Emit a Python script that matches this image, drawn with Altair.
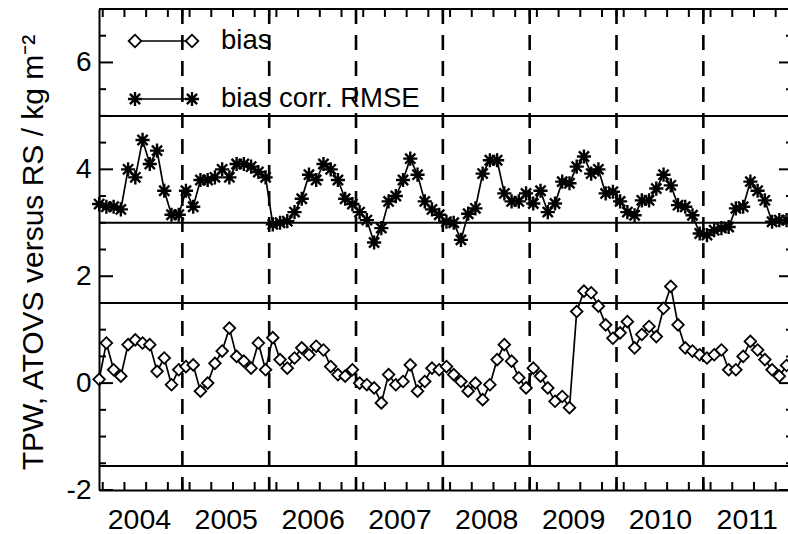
import altair as alt
import pandas as pd

# Monthly TPW statistics, ATOVS versus radiosondes, Jan 2004 - Dec 2011
bias = [
    0.07, 0.75, 0.25, 0.13, 0.72, 0.81, 0.75, 0.72, 0.22, 0.47, -0.03, 0.25,   # 2004
    0.31, 0.34, -0.15, 0.00, 0.37, 0.60, 1.03, 0.50, 0.41, 0.28, 0.75, 0.25,   # 2005
    0.85, 0.44, 0.28, 0.47, 0.66, 0.53, 0.69, 0.62, 0.31, 0.16, 0.13, 0.25,    # 2006
    0.00, -0.03, -0.09, -0.37, 0.16, -0.03, 0.03, 0.34, -0.15, 0.03, 0.28, 0.25,  # 2007
    0.31, 0.16, 0.03, -0.15, 0.00, -0.31, -0.03, 0.44, 0.72, 0.41, 0.10, -0.09,  # 2008
    0.28, 0.13, -0.09, -0.34, -0.25, -0.46, 1.34, 1.72, 1.69, 1.44, 1.09, 0.84,  # 2009
    0.94, 1.15, 0.66, 0.91, 1.06, 0.87, 1.40, 1.81, 1.09, 0.66, 0.60, 0.53,    # 2010
    0.47, 0.53, 0.62, 0.25, 0.25, 0.50, 0.78, 0.62, 0.44, 0.25, 0.13, 0.33,    # 2011
]
rmse = [
    3.35, 3.30, 3.30, 3.25, 4.00, 3.85, 4.55, 4.10, 4.35, 3.60, 3.15, 3.15,    # 2004
    3.60, 3.30, 3.80, 3.80, 3.85, 4.00, 3.85, 4.10, 4.10, 4.05, 3.95, 3.85,    # 2005
    2.97, 3.00, 3.03, 3.20, 3.45, 3.90, 3.80, 4.10, 4.00, 3.80, 3.45, 3.35,    # 2006
    3.20, 3.05, 2.63, 2.90, 3.40, 3.50, 3.80, 4.20, 3.90, 3.40, 3.25, 3.15,    # 2007
    3.02, 3.00, 2.68, 3.17, 3.27, 3.92, 4.17, 4.17, 3.55, 3.40, 3.40, 3.55,    # 2008
    3.36, 3.60, 3.20, 3.36, 3.77, 3.74, 4.05, 4.24, 3.92, 4.00, 3.55, 3.58,    # 2009
    3.40, 3.20, 3.14, 3.42, 3.42, 3.64, 3.90, 3.70, 3.33, 3.30, 3.14, 2.80,    # 2010
    2.77, 2.86, 2.90, 2.92, 3.27, 3.30, 3.77, 3.60, 3.42, 3.02, 3.05, 3.05,    # 2011
]
first_year = 2004
year_labels = ["2004", "2005", "2006", "2007", "2008", "2009", "2010", "2011"]
year_breaks = [2005, 2006, 2007, 2008, 2009, 2010, 2011]
ref_levels = [5.0, 3.0, 1.5, -1.55]
legend_labels = ["bias", "bias corr. RMSE"]
y_labels = [-2, 0, 2, 4, 6]

FONT = "Liberation Sans"
W, H = 689, 481
X_DOMAIN = [2004.04, 2011.975]
Y_DOMAIN = [-2, 7]

t = [first_year + (i + 0.5) / 12 for i in range(len(bias))]
df = pd.DataFrame({"t": t, "bias": bias, "rmse": rmse})

xs = alt.Scale(domain=X_DOMAIN, nice=False, zero=False)
ys = alt.Scale(domain=Y_DOMAIN, nice=False, zero=False)

# shared axes (same definition in every layer so they merge cleanly)
X_AX = alt.Axis(values=[int(s) + 0.5 for s in year_labels],
                labelExpr="floor(datum.value)", ticks=False, grid=False,
                domain=True, domainColor="black", domainWidth=2,
                labelFont=FONT, labelFontSize=28.5, labelColor="black",
                labelPadding=15, labelFlush=False, labelOverlap=False,
                title=None)
Y_AX = alt.Axis(values=y_labels, ticks=False, grid=False,
                labelExpr="replace(datum.label, '\u2212', '-')",
                domain=True, domainColor="black", domainWidth=2,
                labelFont=FONT, labelFontSize=28, labelColor="black",
                labelPadding=8, labelFlush=False,
                title="TPW, ATOVS versus RS / kg m⁻²",
                titleFont=FONT, titleFontSize=30, titleFontWeight="normal",
                titleColor="black", titleAngle=270, titleX=-66, titleY=243,
                titleAlign="center", titleBaseline="middle")

def X(field):
    return alt.X(field, scale=xs, axis=X_AX)

def Y(field):
    return alt.Y(field, scale=ys, axis=Y_AX)

# IDL-style asterisk symbol
ASTERISK = "M-1,0L1,0M0,-1L0,1M-0.72,-0.72L0.72,0.72M-0.72,0.72L0.72,-0.72"

# inward ticks: y every 0.5 with majors at even values, x at year breaks and quarters
y_ticks = [Y_DOMAIN[0] + 0.5 * k for k in range(19)]
y_major = [v for v in y_ticks if v % 2 == 0]
y_minor = [v for v in y_ticks if v % 2 != 0]
x_ticks = year_breaks + [y + 0.083 + 0.25 * q for y in range(2004, 2012) for q in range(4)]
x_ticks = [v for v in x_ticks if X_DOMAIN[0] <= v <= X_DOMAIN[1]]

base = alt.Chart(df)

rmse_line = base.mark_line(color="black", strokeWidth=1.7).encode(x=X("t:Q"), y=Y("rmse:Q"))
rmse_pts = base.mark_point(shape=ASTERISK, size=200, filled=False, color="black",
                           strokeWidth=2.4, opacity=1).encode(x=X("t:Q"), y=Y("rmse:Q"))
bias_line = base.mark_line(color="black", strokeWidth=1.7).encode(x=X("t:Q"), y=Y("bias:Q"))
bias_pts = base.mark_point(shape="diamond", size=135, filled=True, fill="white",
                           stroke="black", strokeWidth=1.8, opacity=1).encode(
    x=X("t:Q"), y=Y("bias:Q"))

hlines = alt.Chart(pd.DataFrame({"v": ref_levels})).mark_rule(
    color="black", strokeWidth=2).encode(y=Y("v:Q"))

vlines = alt.Chart(pd.DataFrame({"yr": year_breaks})).mark_rule(
    color="black", strokeWidth=2.6, strokeDash=[15, 11]).encode(x=X("yr:Q"))

# frame top edge
top_edge = alt.Chart(pd.DataFrame({"k": [0]})).mark_rule(color="black", strokeWidth=2).encode(
    x=alt.value(0), x2=alt.value(W), y=alt.value(0))

def yticks(vals, x0, x1):
    return alt.Chart(pd.DataFrame({"v": vals})).mark_rule(color="black", strokeWidth=2).encode(
        y=Y("v:Q"), x=alt.value(x0), x2=alt.value(x1))

def xticks(vals, y0, y1):
    return alt.Chart(pd.DataFrame({"v": vals})).mark_rule(color="black", strokeWidth=2).encode(
        x=X("v:Q"), y=alt.value(y0), y2=alt.value(y1))

ticks = [
    yticks(y_major, 0, 14), yticks(y_minor, 0, 7),
    yticks(y_major, W - 9, W), yticks(y_minor, W - 2, W),
    xticks(x_ticks, H - 8, H), xticks(x_ticks, 0, 8),
]

# legend drawn inside the plot area
LX0, LX1, LTX = 36, 93, 122
LY = [32, 90]

def legend_row(i, point_kwargs):
    one = pd.DataFrame({"label": [legend_labels[i]]})
    seg = alt.Chart(one).mark_rule(color="black", strokeWidth=1.7).encode(
        x=alt.value(LX0), x2=alt.value(LX1), y=alt.value(LY[i]))
    p0 = alt.Chart(one).mark_point(**point_kwargs).encode(x=alt.value(LX0), y=alt.value(LY[i]))
    p1 = alt.Chart(one).mark_point(**point_kwargs).encode(x=alt.value(LX1), y=alt.value(LY[i]))
    txt = alt.Chart(one).mark_text(align="left", baseline="middle", font=FONT,
                                   fontSize=27.5, color="black").encode(
        x=alt.value(LTX), y=alt.value(LY[i]), text="label:N")
    return [seg, p0, p1, txt]

legend = (
    legend_row(0, dict(shape="diamond", size=160, filled=True, fill="white",
                       stroke="black", strokeWidth=1.8, opacity=1))
    + legend_row(1, dict(shape=ASTERISK, size=200, filled=False, color="black",
                         strokeWidth=2.4, opacity=1))
)

chart = alt.layer(
    hlines, vlines, rmse_line, rmse_pts, bias_line, bias_pts, top_edge, *ticks, *legend
).properties(
    width=W, height=H,
    autosize=alt.AutoSizeParams(type="none"),
    padding={"left": 99, "top": 9, "right": 0, "bottom": 44},
    background="white",
).configure_view(stroke=None)

chart.save("out.html", embed_options={"renderer": "svg", "actions": False})
